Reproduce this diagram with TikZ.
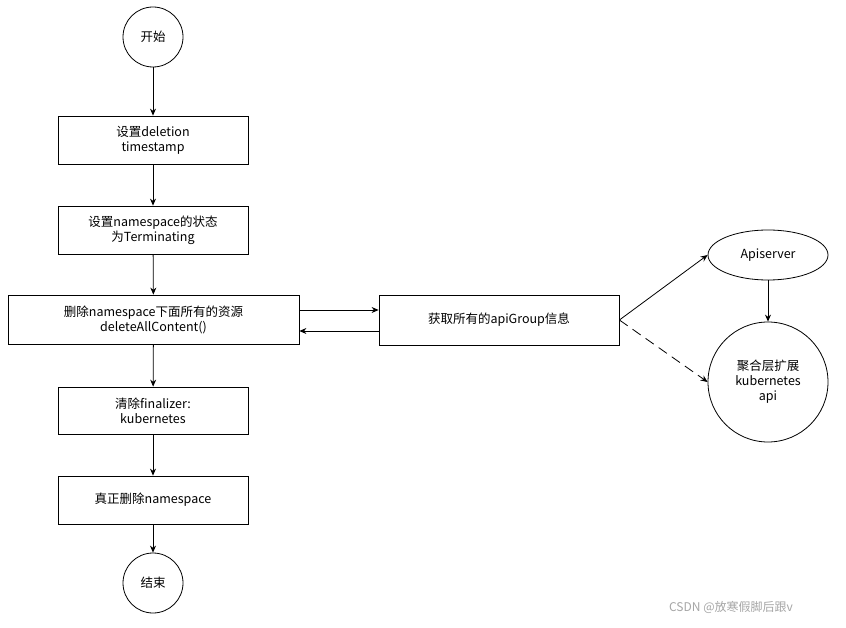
\documentclass[tikz,border=0pt]{standalone}
\usepackage{fontspec}
\setmainfont{Noto Sans CJK SC}
\usetikzlibrary{shapes.geometric,arrows.meta}
\begin{document}
\begin{tikzpicture}[x=1pt,y=-1pt,
  box/.style={draw,thick,align=center,font=\fontsize{12.5}{15}\selectfont,inner sep=0},
  circ/.style={draw,thick,circle,minimum size=60pt,align=center,font=\fontsize{12.5}{15}\selectfont,inner sep=0},
  arr/.style={thick,-{Stealth[length=7pt,width=6pt]}}]
\useasboundingbox (0,0) rectangle (846,628);
\fill[white] (0,0) rectangle (846,628);
\node[circ] (s) at (153,37) {开始};
\node[box,minimum width=190pt,minimum height=48pt] (b1) at (153,140) {设置deletion\\timestamp};
\node[box,minimum width=190pt,minimum height=48pt] (b2) at (153,230) {设置namespace的状态\\为Terminating};
\node[box,minimum width=291pt,minimum height=49pt] (b3) at (153.5,319.5) {删除namespace下面所有的资源\\deleteAllContent()};
\node[box,minimum width=190pt,minimum height=47pt] (b4) at (153,410.5) {清除finalizer:\\kubernetes};
\node[box,minimum width=190pt,minimum height=48pt] (b5) at (153,500) {真正删除namespace};
\node[circ] (e) at (153,583) {结束};
\node[box,minimum width=240pt,minimum height=50pt] (g) at (499,320) {获取所有的apiGroup信息};
\node[draw,thick,ellipse,minimum width=120pt,minimum height=50pt,inner sep=0,font=\fontsize{12.5}{15}\selectfont] (a) at (768,255) {Apiserver};
\node[circ,minimum size=120pt] (k) at (768,382) {聚合层扩展\\kubernetes\\api};
\draw[arr] (s) -- (b1);
\draw[arr] (b1) -- (b2);
\draw[arr] (b2) -- (b3);
\draw[arr] (b3) -- (b4);
\draw[arr] (b4) -- (b5);
\draw[arr] (b5) -- (e);
\draw[arr] (b3.east|-0,310) -- (g.west|-0,310);
\draw[arr] (g.west|-0,331) -- (b3.east|-0,331);
\draw[arr] (g.east) -- (a.west);
\draw[arr,dash pattern=on 10pt off 6pt] (g.east) -- (k.west);
\draw[arr] (a) -- (k);
\node[text=gray!70,font=\fontsize{12}{14}\selectfont] (w) at (731,607) {CSDN @放寒假脚后跟v};
\end{tikzpicture}
\end{document}
